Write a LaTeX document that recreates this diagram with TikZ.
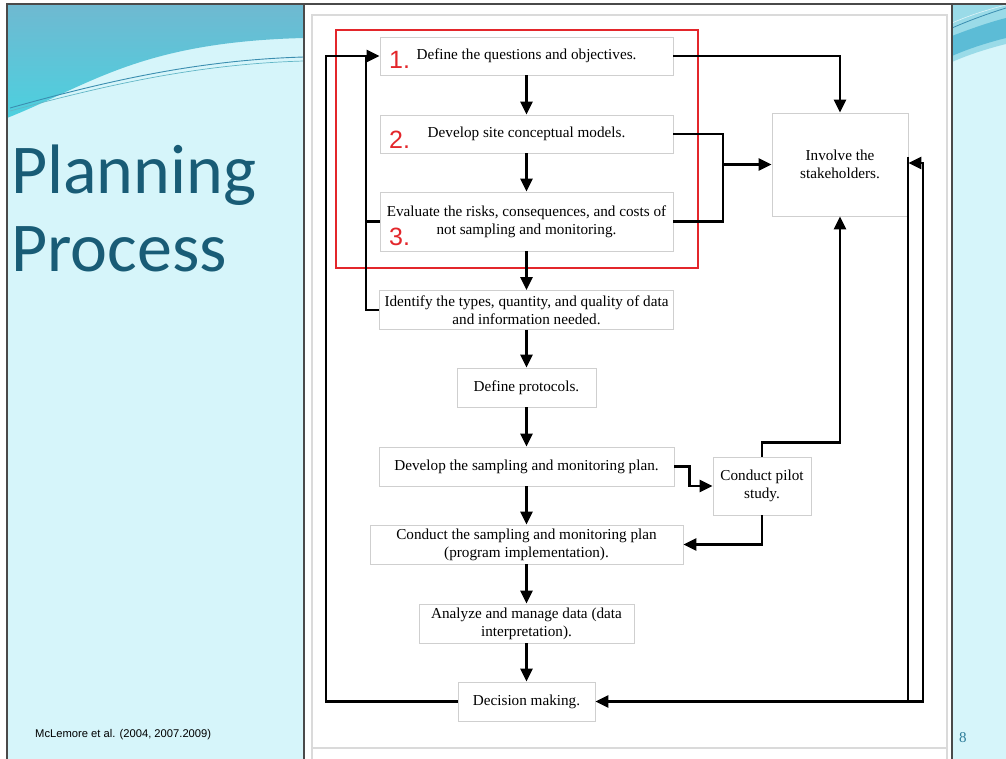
\documentclass[tikz,border=0pt]{standalone}
\usepackage{fontspec}
\setmainfont{Liberation Serif}
\newfontfamily\titlefont{Carlito}
\newfontfamily\arialfont{Liberation Sans}
\usetikzlibrary{arrows.meta}
\definecolor{slidebg}{HTML}{D6F5FA}
\definecolor{topdark}{HTML}{6FB9D1}
\definecolor{topcyan}{HTML}{4CD0DF}
\definecolor{titlecol}{HTML}{195C76}
\definecolor{boxgray}{HTML}{CFCFCF}
\definecolor{framegray}{HTML}{DADADA}
\definecolor{numred}{HTML}{E3262B}
\definecolor{waveline}{HTML}{3B8EB0}
\definecolor{waveline2}{HTML}{62B6C6}
\definecolor{trlight}{HTML}{9ADBE8}
\definecolor{trdark}{HTML}{5CBCD6}
\definecolor{bordergray}{HTML}{4A4A4A}
\definecolor{pagecol}{HTML}{2C7C99}
\tikzset{
  box/.style={draw=boxgray, line width=0.9pt, fill=white, inner sep=0pt, align=center,
    font=\fontsize{15.2}{18}\selectfont},
  plain/.style={line width=2.7pt, line join=miter},
  conn/.style={plain, -{Triangle[length=13pt,width=12pt]}},
  num/.style={text=numred, font=\arialfont\fontsize{25}{25}\selectfont, anchor=base west, inner sep=0pt},
}
\begin{document}
\begin{tikzpicture}[x=1pt,y=-1pt]
\useasboundingbox (0,0) rectangle (1006,759);
% slide background
\fill[white] (0,0) rectangle (1006,759);
\fill[slidebg] (7,4) rectangle (1006,759);
\shade[top color=topdark, bottom color=topcyan] (7,4) -- (304,4) -- (304,38) .. controls (140,42) and (90,85) .. (7,118) -- cycle;
\draw[line width=0.9pt, waveline] (10,108) .. controls (110,80) and (200,60) .. (304,57);
\draw[line width=0.7pt, waveline2] (10,111) .. controls (110,84) and (200,64) .. (304,61);
% top right decoration
\fill[trlight] (952,4) -- (1006,4) -- (1006,44) .. controls (990,48) and (970,54) .. (952,62) -- cycle;
\fill[trdark] (952,36) .. controls (970,29) and (990,22) .. (1006,18) -- (1006,38) .. controls (990,42) and (970,48) .. (952,56) -- cycle;
\draw[line width=0.8pt, waveline] (952,28) .. controls (970,20) and (990,13) .. (1006,8);
\draw[line width=0.6pt, white!70!trlight] (952,23) .. controls (970,15) and (990,9) .. (1006,5);
% slide border
\draw[bordergray, line width=1.4pt] (7,759) -- (7,4) -- (1006,4);
% title
\node[anchor=base west, inner sep=0pt, text=titlecol, font=\titlefont\fontsize{70}{70}\selectfont] (t1) at (11,194) {Planning};
\node[anchor=base west, inner sep=0pt, text=titlecol, font=\titlefont\fontsize{70}{70}\selectfont] (t2) at (11,272) {Process};
\node[anchor=base west, inner sep=0pt, font=\arialfont\fontsize{11.2}{13}\selectfont] (foot) at (35,737) {McLemore et al. (2004, 2007.2009)};
\node[anchor=base west, inner sep=0pt, text=pagecol, font=\fontsize{15}{15}\selectfont] (pg) at (959,742) {8};
% embedded image
\fill[white] (304,4) rectangle (952,759);
\draw[bordergray, line width=1.4pt] (304,759) -- (304,4) -- (952,4) -- (952,759);
\draw[framegray, line width=1.2pt] (312,759) -- (312,15) -- (947,15) -- (947,759);
\draw[framegray, line width=1.2pt] (312,748) -- (947,748);
% boxes
\node[box, minimum width=293pt, minimum height=38pt] (b1) at (526.5,56) {Define the questions and objectives.};
\node[box, minimum width=293pt, minimum height=38pt] (b2) at (526.5,134) {Develop site conceptual models.};
\node[box, minimum width=293pt, minimum height=59pt] (b3) at (526.5,221.5) {Evaluate the risks, consequences, and costs of\\not sampling and monitoring.};
\node[box, minimum width=294pt, minimum height=39pt] (b4) at (526.5,310) {Identify the types, quantity, and quality of data\\and information needed.};
\node[box, minimum width=139pt, minimum height=39pt] (b5) at (526.5,387.5) {Define protocols.};
\node[box, minimum width=295pt, minimum height=39pt] (b6) at (526.5,466.5) {Develop the sampling and monitoring plan.};
\node[box, minimum width=313pt, minimum height=39pt] (b7) at (526.5,544.5) {Conduct the sampling and monitoring plan\\(program implementation).};
\node[box, minimum width=215pt, minimum height=39pt] (b8) at (526.5,623.5) {Analyze and manage data (data\\interpretation).};
\node[box, minimum width=137pt, minimum height=39pt] (b9) at (526.5,701.5) {Decision making.};
\node[box, minimum width=136pt, minimum height=103pt] (sh) at (840,164.5) {Involve the\\stakeholders.};
\node[box, minimum width=98pt, minimum height=58pt] (pl) at (762,486) {Conduct pilot\\study.};
% red numbers
\node[num] (n1) at (389,69) {1.};
\node[num] (n2) at (389,149) {2.};
\node[num] (n3) at (389,246) {3.};
% red frame
\draw[numred, line width=1.5pt] (336,30) rectangle (698,268);
% main chain
\draw[conn] (b1.south) -- (b2.north);
\draw[conn] (b2.south) -- (b3.north);
\draw[conn] (b3.south) -- (b4.north);
\draw[conn] (b4.south) -- (b5.north);
\draw[conn] (b5.south) -- (b6.north);
\draw[conn] (b6.south) -- (b7.north);
\draw[conn] (b7.south) -- (b8.north);
\draw[conn] (b8.south) -- (b9.north);
% to stakeholders
\coordinate (j) at (723,164.5);
\draw[conn] (b1.east) -| (sh.north);
\draw[plain] (b2.east) -| (j);
\draw[plain] (b3.east) -| (j);
\draw[conn] (j) -- (sh.west);
% pilot
\draw[conn] (b6.east) -- ++(15,0) |- (pl.west);
\draw[conn] (pl.south) |- (b7.east);
\draw[conn] (pl.north) -- ++(0,-14) -| (sh.south);
% left loops
\coordinate (lo) at (326,56);
\coordinate (li) at (366,56);
\draw[conn] (b9.west) -| (lo) -- (b1.west);
\draw[plain] (b4.west) -| (li);
\draw[plain] (b3.west) -- (b3.west -| li);
% right loop
\coordinate (r1) at (908,157);
\coordinate (r2) at (923,163);
\draw[conn] (r1) |- (b9.east);
\draw[conn] (r1 |- b9.east) -| (r2) -- (sh.east |- r2);
\end{tikzpicture}
\end{document}
